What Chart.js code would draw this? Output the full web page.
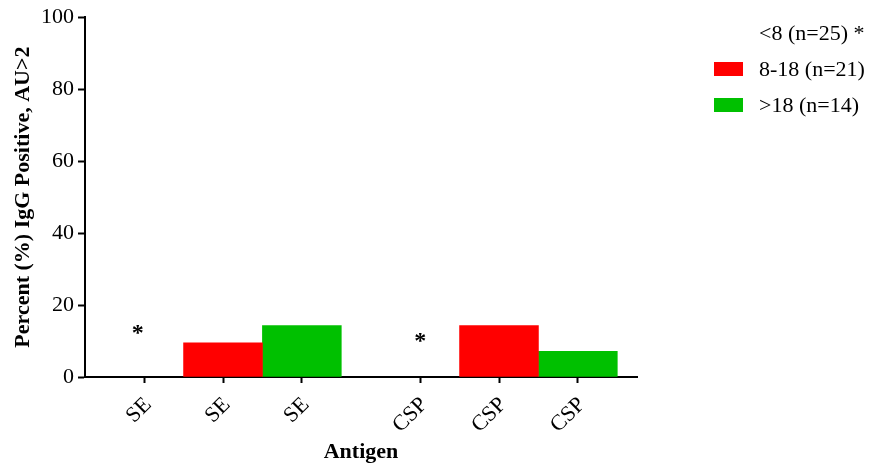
<!DOCTYPE html>
<html>
<head>
<meta charset="utf-8">
<script src="https://cdn.jsdelivr.net/npm/chart.js@4.4.1/dist/chart.umd.min.js"></script>
<style>
    html, body { margin: 0; padding: 0; background: #fff; }
    #wrap { position: relative; width: 871px; height: 467px; }
    #legend { position: absolute; left: 714px; top: 15px; font-family: 'Liberation Serif', 'Times New Roman', serif; font-size: 22px; color: #000; }
    .item { display: flex; align-items: center; height: 36px; }
    .swatch { width: 29px; height: 14px; margin-right: 16px; }
</style>
</head>
<body>
<div id="wrap">
    <canvas id="grafica" width="871" height="467"></canvas>
    <div id="legend"></div>
</div>
<script>
// Datos del gráfico
const etiquetasAntigeno = ['SE', 'SE', 'SE', 'CSP', 'CSP', 'CSP'];
const posiciones = [0, 1, 2, 3.5, 4.5, 5.5];
const grupos = ['<8 (n=25) *', '8-18 (n=21)', '>18 (n=14)'];
const colores = ['rgba(0,0,0,0)', '#ff0000', '#00c000'];
const valoresMenor8 = [0, null, null, 0, null, null];
const valores8a18 = [null, 9.5, null, null, 14.3, null];
const valoresMayor18 = [null, null, 14.3, null, null, 7.1];
const asteriscos = [{ x: -0.08, y: 13.5 }, { x: 3.5, y: 11.3 }];

const fuente = "'Liberation Serif', 'Times New Roman', serif";
const series = [valoresMenor8, valores8a18, valoresMayor18];

function puntos(valores) {
    return valores.map((v, i) => ({ x: posiciones[i], y: v })).filter(p => p.y !== null);
}

const pluginAsteriscos = {
    id: 'asteriscos',
    afterDatasetsDraw(chart) {
        const { ctx, scales } = chart;
        ctx.save();
        ctx.font = 'bold 24px ' + fuente;
        ctx.fillStyle = '#000';
        ctx.textAlign = 'center';
        ctx.textBaseline = 'middle';
        asteriscos.forEach(a => {
            ctx.fillText('*', scales.x.getPixelForValue(a.x), scales.y.getPixelForValue(a.y) + 5);
        });
        ctx.restore();
    }
};

new Chart(document.getElementById('grafica'), {
    type: 'bar',
    data: {
        datasets: grupos.map((g, i) => ({
            label: g,
            data: puntos(series[i]),
            backgroundColor: colores[i],
            borderWidth: 0,
            grouped: false,
            barPercentage: 1,
            categoryPercentage: 1
        }))
    },
    options: {
        responsive: false,
        animation: false,
        layout: { padding: { top: 14, right: 234, bottom: 0, left: 0 } },
        plugins: {
            legend: { display: false },
            tooltip: { enabled: false }
        },
        scales: {
            x: {
                type: 'linear',
                min: -0.75,
                max: 6.25,
                offset: false,
                afterBuildTicks: scale => {
                    scale.ticks = posiciones.map(v => ({ value: v }));
                },
                afterFit: scale => { scale.height = 90; },
                grid: { offset: false, drawOnChartArea: false, tickLength: 6, tickWidth: 2, tickColor: '#000' },
                border: { color: '#000', width: 2 },
                ticks: {
                    minRotation: 45,
                    maxRotation: 45,
                    padding: 9,
                    labelOffset: 4,
                    color: '#000',
                    font: { family: fuente, size: 22 },
                    callback: (v, i) => etiquetasAntigeno[i]
                },
                title: {
                    display: true,
                    text: 'Antigen',
                    color: '#000',
                    font: { family: fuente, size: 22, weight: 'bold' },
                    padding: { top: 0, bottom: 1 }
                }
            },
            y: {
                min: 0,
                max: 100,
                afterFit: scale => { scale.width = 85; },
                grid: { drawOnChartArea: false, tickLength: 7, tickWidth: 2, tickColor: '#000' },
                border: { color: '#000', width: 2 },
                ticks: {
                    stepSize: 20,
                    padding: 4,
                    color: '#000',
                    font: { family: fuente, size: 22 }
                },
                title: {
                    display: true,
                    text: 'Percent (%) IgG Positive, AU>2',
                    color: '#000',
                    font: { family: fuente, size: 22, weight: 'bold' },
                    padding: { top: 10, bottom: 0 }
                }
            }
        }
    },
    plugins: [pluginAsteriscos]
});

// Leyenda
const leyenda = document.getElementById('legend');
grupos.forEach((g, i) => {
    const div = document.createElement('div');
    div.className = 'item';
    div.innerHTML = `<span class="swatch" style="background:${colores[i]}"></span><span>${g.replace(/</g, '&lt;').replace(/>/g, '&gt;')}</span>`;
    leyenda.appendChild(div);
});
</script>
</body>
</html>
